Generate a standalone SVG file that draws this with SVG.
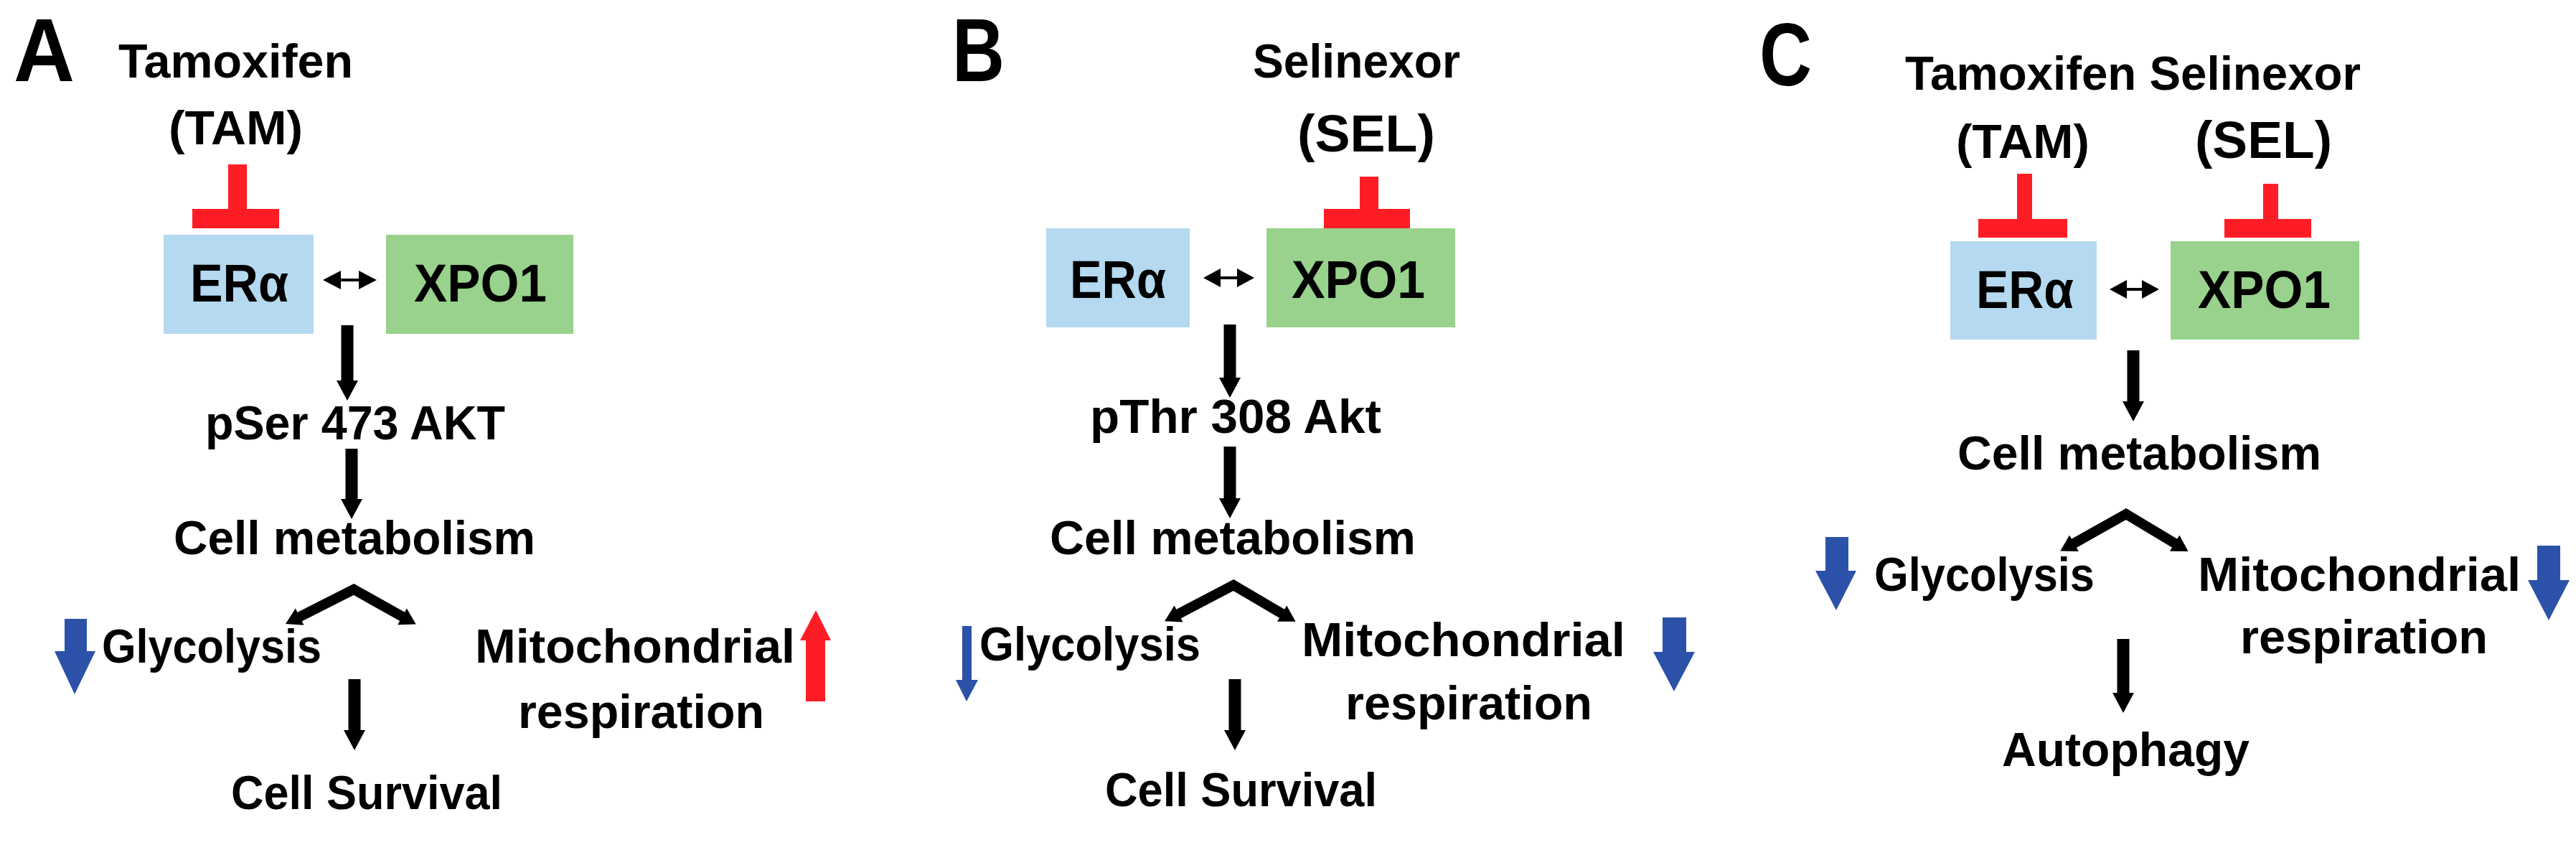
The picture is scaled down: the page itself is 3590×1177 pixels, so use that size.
<svg xmlns="http://www.w3.org/2000/svg" width="3590" height="1177" viewBox="0 0 3590 1177">
<style>
text{font-family:"Liberation Sans",Arial,sans-serif;font-weight:bold;fill:#000}
.t{font-size:66px}
.big{font-size:72px}
.lbl{font-size:124px}
.box{font-size:74px}
.era{fill:#B4D9F0}
.xpo{fill:#98D28C}
.red{fill:#FF1D25}
.blue{fill:#2B52A8}
.blk{fill:#000}
.chev{fill:none;stroke:#000;stroke-width:14;stroke-linejoin:miter;marker-start:url(#ah);marker-end:url(#ah)}
</style>
<defs>
<marker id="ah" markerUnits="userSpaceOnUse" markerWidth="30" markerHeight="30" viewBox="0 -15 24 30" refX="8" refY="0" orient="auto-start-reverse">
<path d="M0,-13 L22,0 L0,13 Z" fill="#000"/>
</marker>
</defs>
<rect width="3590" height="1177" fill="#fff"/>

<!-- Panel A -->
<g id="panelA-label"><text class="lbl" x="19" y="113" textLength="85" lengthAdjust="spacingAndGlyphs">A</text></g>
<g id="A-tam"><text class="t" x="165" y="108" textLength="327" lengthAdjust="spacingAndGlyphs">Tamoxifen</text>
<text class="t" x="235" y="201" textLength="187" lengthAdjust="spacingAndGlyphs">(TAM)</text></g>
<g id="A-era"><rect class="era" x="228" y="327" width="209" height="138"/><text class="box" x="265" y="420" textLength="137" lengthAdjust="spacingAndGlyphs">ERα</text></g>
<g id="A-xpo1"><rect class="xpo" x="538" y="327" width="261" height="138"/><text class="box" x="577" y="420" textLength="185" lengthAdjust="spacingAndGlyphs">XPO1</text></g>
<g id="A-akt"><text class="t" x="286" y="612" textLength="418" lengthAdjust="spacingAndGlyphs">pSer 473 AKT</text></g>
<g id="A-metab"><text class="t" x="242" y="772" textLength="504" lengthAdjust="spacingAndGlyphs">Cell metabolism</text></g>
<g id="A-glyc"><text class="t" x="142" y="923" textLength="306" lengthAdjust="spacingAndGlyphs">Glycolysis</text></g>
<g id="A-mito"><text class="t" x="662" y="923" textLength="446" lengthAdjust="spacingAndGlyphs">Mitochondrial</text>
<text class="t" x="722" y="1014" textLength="343" lengthAdjust="spacingAndGlyphs">respiration</text></g>
<g id="A-surv"><text class="t" x="322" y="1127" textLength="378" lengthAdjust="spacingAndGlyphs">Cell Survival</text></g>

<!-- Panel B -->
<g id="panelB-label"><text class="lbl" x="1327" y="113" textLength="73" lengthAdjust="spacingAndGlyphs">B</text></g>
<g id="B-sel"><text class="t" x="1746" y="108" textLength="289" lengthAdjust="spacingAndGlyphs">Selinexor</text>
<text class="big" x="1808" y="211" textLength="192" lengthAdjust="spacingAndGlyphs">(SEL)</text></g>
<g id="B-era"><rect class="era" x="1458" y="318" width="200" height="138"/><text class="box" x="1491" y="415" textLength="134" lengthAdjust="spacingAndGlyphs">ERα</text></g>
<g id="B-xpo1"><rect class="xpo" x="1765" y="318" width="263" height="138"/><text class="box" x="1800" y="415" textLength="186" lengthAdjust="spacingAndGlyphs">XPO1</text></g>
<g id="B-akt"><text class="t" x="1519" y="603" textLength="406" lengthAdjust="spacingAndGlyphs">pThr 308 Akt</text></g>
<g id="B-metab"><text class="t" x="1463" y="772" textLength="510" lengthAdjust="spacingAndGlyphs">Cell metabolism</text></g>
<g id="B-glyc"><text class="t" x="1365" y="920" textLength="308" lengthAdjust="spacingAndGlyphs">Glycolysis</text></g>
<g id="B-mito"><text class="t" x="1814" y="914" textLength="451" lengthAdjust="spacingAndGlyphs">Mitochondrial</text>
<text class="t" x="1875" y="1002" textLength="344" lengthAdjust="spacingAndGlyphs">respiration</text></g>
<g id="B-surv"><text class="t" x="1540" y="1123" textLength="379" lengthAdjust="spacingAndGlyphs">Cell Survival</text></g>

<!-- Panel C -->
<g id="panelC-label"><text class="lbl" x="2452" y="119" textLength="73" lengthAdjust="spacingAndGlyphs">C</text></g>
<g id="C-drugs"><text class="t" x="2655" y="125" textLength="635" lengthAdjust="spacingAndGlyphs">Tamoxifen Selinexor</text>
<text class="t" x="2726" y="220" textLength="186" lengthAdjust="spacingAndGlyphs">(TAM)</text>
<text class="big" x="3059" y="220" textLength="191" lengthAdjust="spacingAndGlyphs">(SEL)</text></g>
<g id="C-era"><rect class="era" x="2718" y="336" width="204" height="137"/><text class="box" x="2754" y="429" textLength="136" lengthAdjust="spacingAndGlyphs">ERα</text></g>
<g id="C-xpo1"><rect class="xpo" x="3025" y="336" width="263" height="137"/><text class="box" x="3063" y="429" textLength="185" lengthAdjust="spacingAndGlyphs">XPO1</text></g>
<g id="C-metab"><text class="t" x="2728" y="654" textLength="507" lengthAdjust="spacingAndGlyphs">Cell metabolism</text></g>
<g id="C-glyc"><text class="t" x="2612" y="823" textLength="307" lengthAdjust="spacingAndGlyphs">Glycolysis</text></g>
<g id="C-mito"><text class="t" x="3063" y="823" textLength="450" lengthAdjust="spacingAndGlyphs">Mitochondrial</text>
<text class="t" x="3122" y="910" textLength="345" lengthAdjust="spacingAndGlyphs">respiration</text></g>
<g id="C-auto"><text class="t" x="2790" y="1067" textLength="345" lengthAdjust="spacingAndGlyphs">Autophagy</text></g>

<!-- Connectors -->
<g id="connectors">
<!-- inhibition T-bars -->
<path class="red" d="M318,229 H344 V291 H389 V318 H268 V291 H318 Z"/>
<path class="red" d="M1895,246 H1921 V291 H1965 V318 H1845 V291 H1895 Z"/>
<path class="red" d="M2811,242 H2832 V305 H2881 V331 H2757 V305 H2811 Z"/>
<path class="red" d="M3154,256 H3175 V305 H3221 V331 H3100 V305 H3154 Z"/>
<!-- double arrows -->
<path class="blk" d="M450,390 L475,377 L475,388 H500 V377 L525,390 L500,403 V392 H475 V403 Z"/>
<path class="blk" d="M1677,387 L1701,374 L1701,385 H1724 V374 L1748,387 L1724,400 V389 H1701 V400 Z"/>
<path class="blk" d="M2940,403 L2964,390 L2964,401 H2985 V390 L3009,403 L2985,416 V405 H2964 V416 Z"/>
<!-- down arrows -->
<path class="blk" d="M475.5,453 H492.5 V530 H499 L484,558 L469,530 H475.5 Z"/>
<path class="blk" d="M481.5,625 H498.5 V695 H505 L490,723 L475,695 H481.5 Z"/>
<path class="blk" d="M485.5,946 H502.5 V1017 H509 L494,1045 L479,1017 H485.5 Z"/>
<path class="blk" d="M1705.5,452 H1722.5 V526 H1729 L1714,554 L1699,526 H1705.5 Z"/>
<path class="blk" d="M1705.5,622 H1722.5 V694 H1729 L1714,722 L1699,694 H1705.5 Z"/>
<path class="blk" d="M1712.5,946 H1729.5 V1017 H1736 L1721,1045 L1706,1017 H1712.5 Z"/>
<path class="blk" d="M2964.5,488 H2981.5 V559 H2988 L2973,587 L2958,559 H2964.5 Z"/>
<path class="blk" d="M2950.5,890 H2967.5 V965 H2974 L2959,993 L2944,965 H2950.5 Z"/>
<!-- diverging arrows -->
<polyline class="chev" points="410.5,862.7 493,821 567.5,862.7"/>
<polyline class="chev" points="1635.5,858.7 1719,815 1793.5,858.7"/>
<polyline class="chev" points="2883.5,760.7 2963,716 3037.5,760.7"/>
<!-- change indicators -->
<path class="blue" d="M90,862 H121 V907 H133 L104,967 L76,907 H90 Z"/>
<path class="red" d="M1123,977 H1150 V892 H1158 L1137,850 L1115,892 H1123 Z"/>
<path class="blue" d="M1341,872 H1354 V947 H1363 L1347,977 L1332,947 H1341 Z"/>
<path class="blue" d="M2317,860 H2350 V908 H2362 L2333,963 L2304,908 H2317 Z"/>
<path class="blue" d="M2544,748 H2576 V795 H2587 L2559,850 L2530,795 H2544 Z"/>
<path class="blue" d="M3536,760 H3568 V808 H3581 L3552,864 L3523,808 H3536 Z"/>
</g>
</svg>
